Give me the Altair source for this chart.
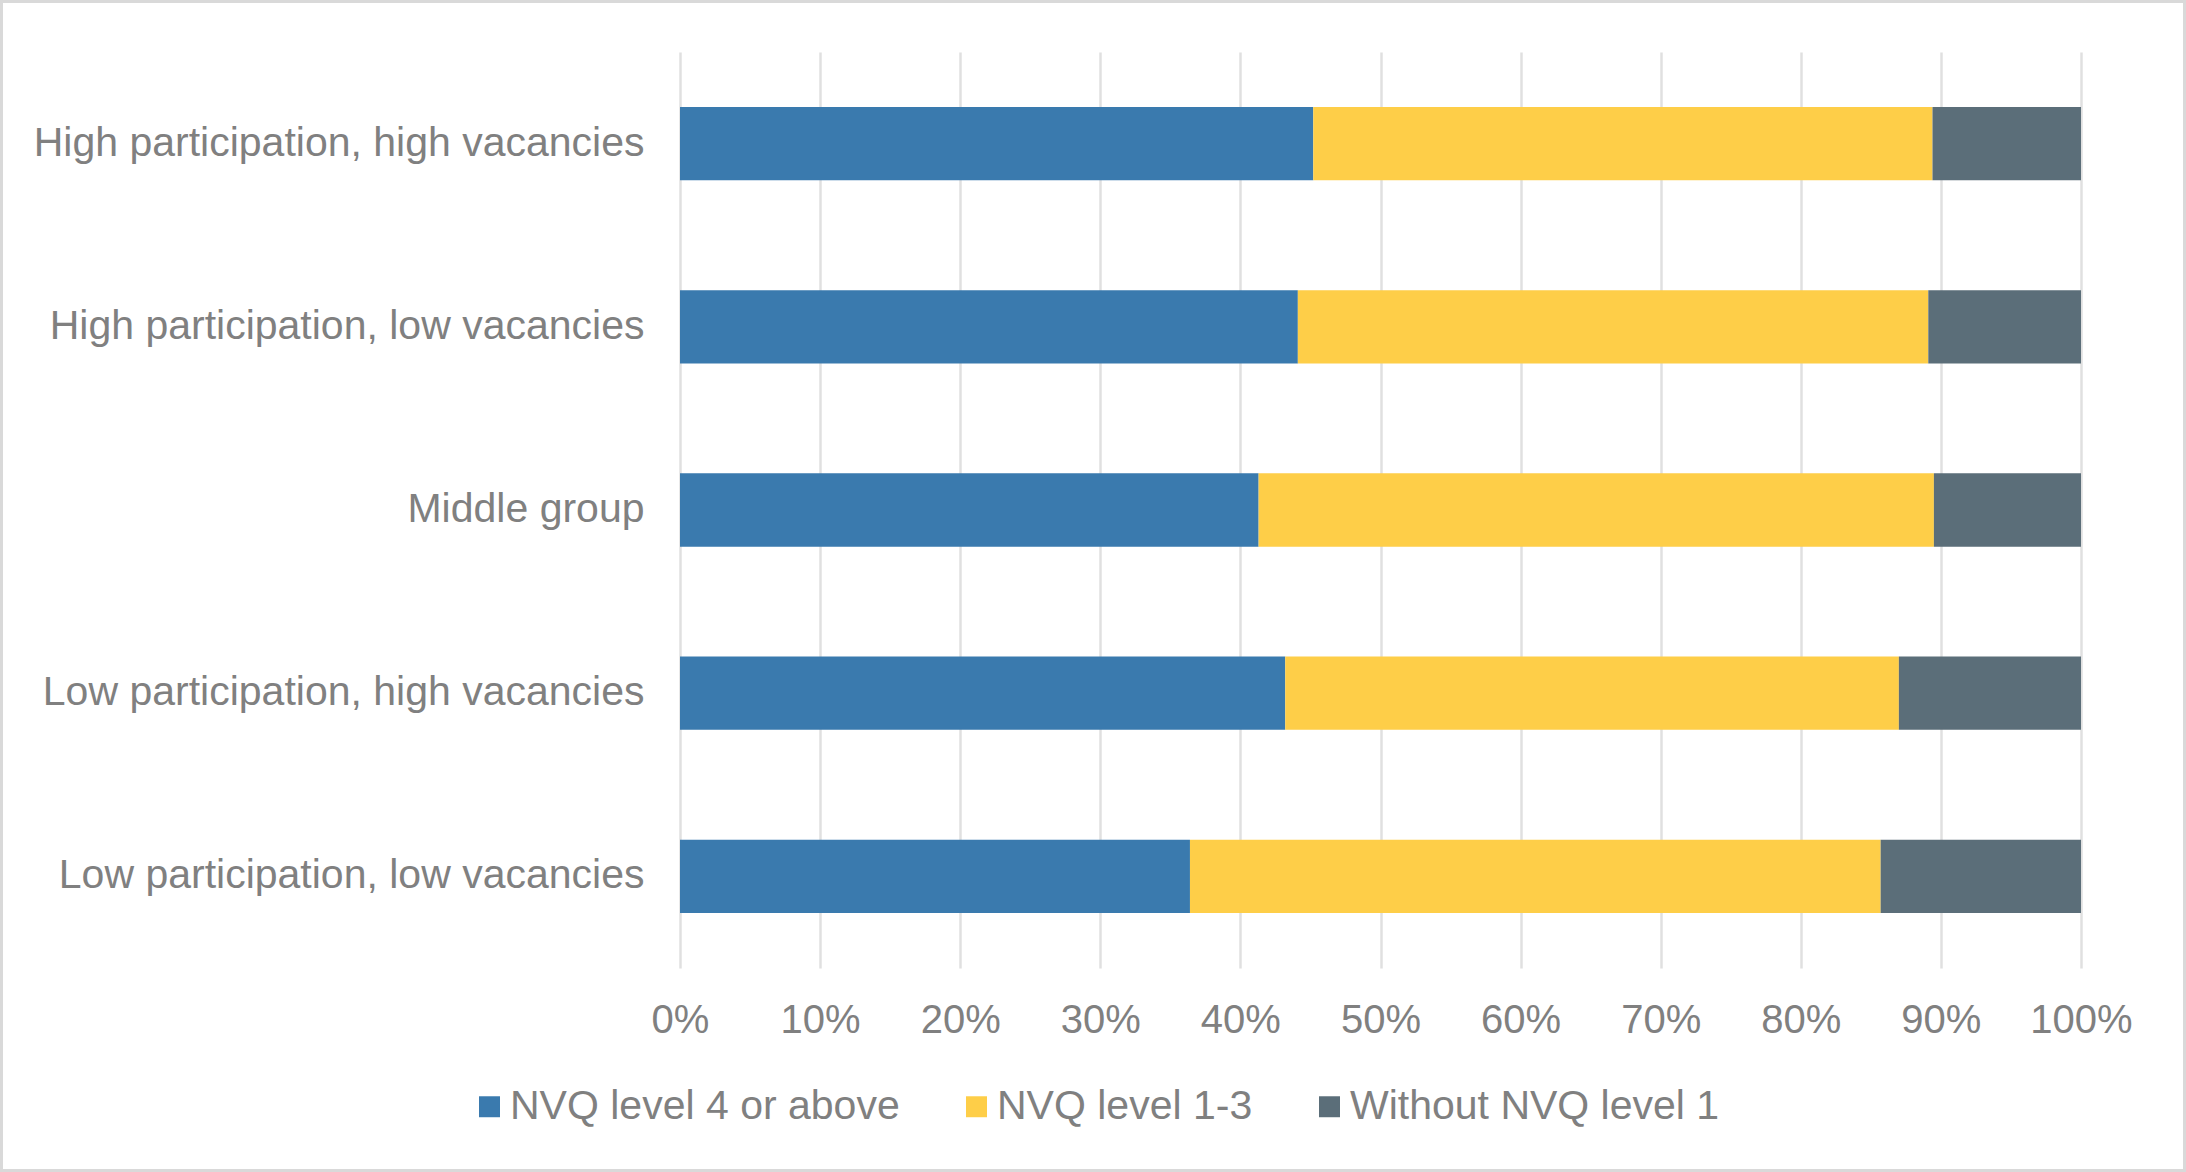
import altair as alt
import pandas as pd

groups = [
    "High participation, high vacancies",
    "High participation, low vacancies",
    "Middle group",
    "Low participation, high vacancies",
    "Low participation, low vacancies",
]
series = ["NVQ level 4 or above", "NVQ level 1-3", "Without NVQ level 1"]
level4 = [45.2, 44.1, 41.3, 43.2, 36.4]
level13 = [44.2, 45.0, 48.2, 43.8, 49.3]
without = [10.6, 10.9, 10.5, 13.0, 14.3]
colors = ["#3a7aae", "#fece48", "#5b6e79"]

rows = []
for i, g in enumerate(groups):
    for k, (s, vals) in enumerate(zip(series, [level4, level13, without])):
        rows.append({"group": g, "series": s, "value": vals[i] / 100.0, "order": k})
df = pd.DataFrame(rows)

bars = alt.Chart(df).mark_bar().encode(
    y=alt.Y("group:N", sort=groups, title=None,
            scale=alt.Scale(paddingInner=0.6, paddingOuter=0.3),
            axis=alt.Axis(ticks=False, domain=False, grid=False, labelPadding=36,
                          labelFontSize=41, labelColor="#808080", labelLimit=1000,
                          labelFont="Liberation Sans")),
    x=alt.X("sum(value):Q", stack="zero", title=None,
            scale=alt.Scale(domain=[0, 1], nice=False),
            axis=alt.Axis(format=".0%", values=[i / 10 for i in range(11)],
                          ticks=False, domain=False, grid=True,
                          gridColor="#e0e0e0", gridWidth=2.5,
                          labelPadding=32, labelFontSize=40, labelColor="#808080",
                          labelFont="Liberation Sans", labelFlush=False)),
    color=alt.Color("series:N", sort=series,
                    scale=alt.Scale(domain=series, range=colors),
                    legend=alt.Legend(title=None, orient="none", direction="horizontal",
                                      legendX=-211, legendY=1034,
                                      symbolType="square", symbolSize=440,
                                      symbolStrokeWidth=0, labelOffset=0,
                                      columnPadding=56, labelFontSize=41,
                                      labelColor="#808080", labelFont="Liberation Sans",
                                      labelLimit=1000)),
    order=alt.Order("order:Q"),
)

frame = alt.Chart(pd.DataFrame({"a": [0]})).mark_rect(
    fill=None, stroke="#d9d9d9", strokeWidth=3
).encode(
    x=alt.value(-678.5), x2=alt.value(1504.5),
    y=alt.value(-50.5), y2=alt.value(1118.5),
)

chart = alt.layer(bars, frame).properties(
    width=1401, height=916,
    view=alt.ViewBackground(strokeWidth=0, strokeOpacity=0),
    autosize=alt.AutoSizeParams(type="none"),
    padding={"left": 680, "top": 52, "right": 105, "bottom": 204},
).configure_view(
    strokeWidth=0, strokeOpacity=0
).configure_axis(
    domain=False
).configure_axisY(
    grid=False
).configure(background="white")

chart.save("out.html", embed_options={"renderer": "svg", "actions": False})
